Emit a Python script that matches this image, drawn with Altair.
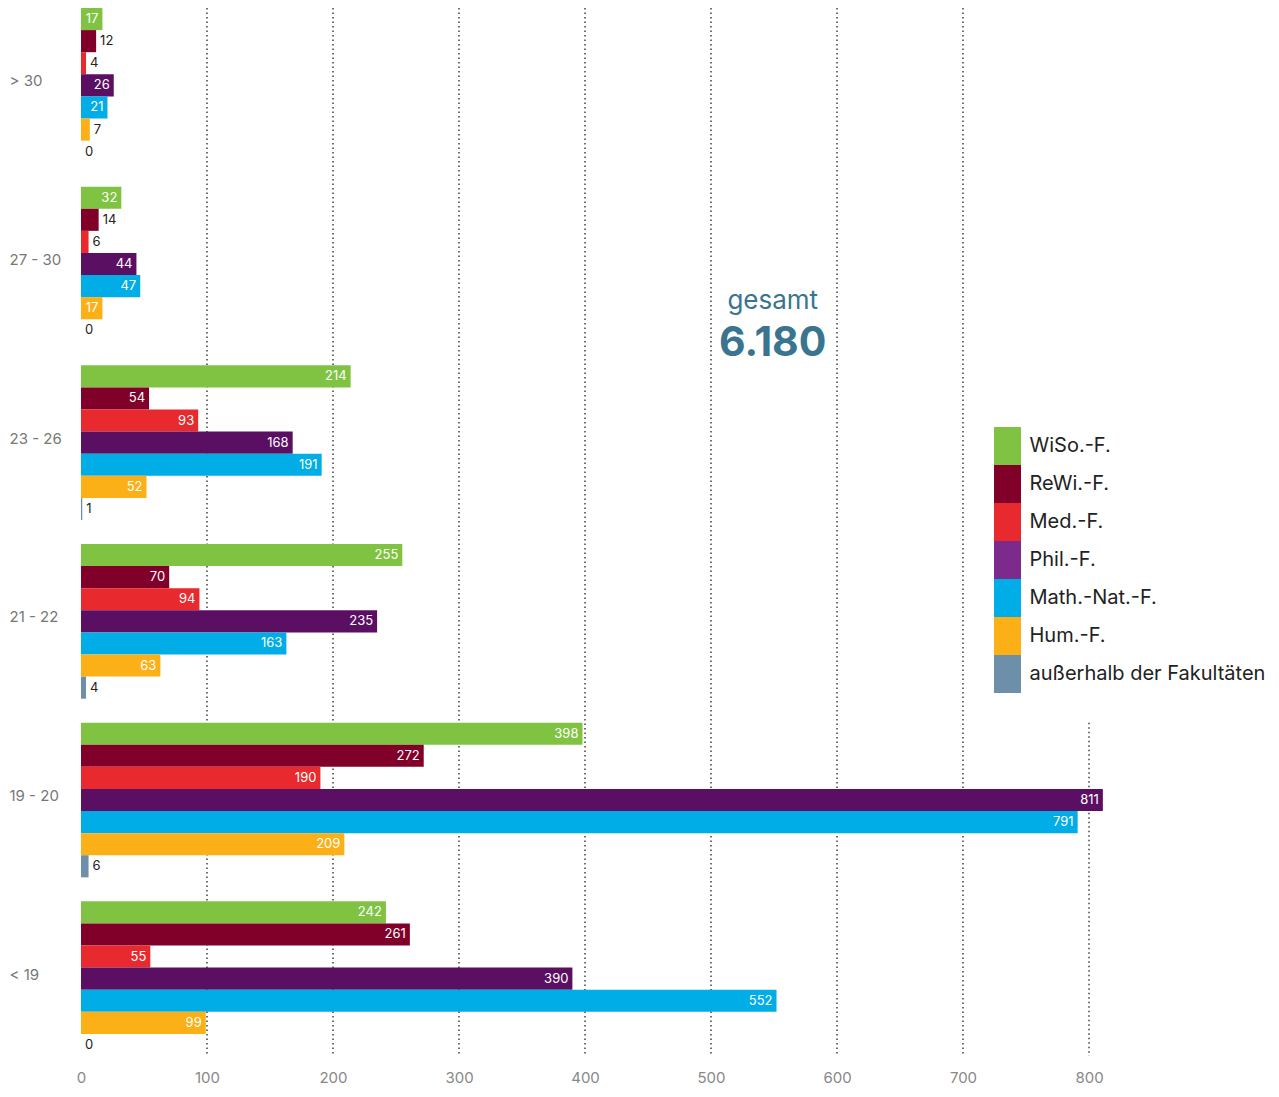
import altair as alt
import pandas as pd

ages = ["> 30", "27 - 30", "23 - 26", "21 - 22", "19 - 20", "< 19"]
faculties = ["WiSo.-F.", "ReWi.-F.", "Med.-F.", "Phil.-F.", "Math.-Nat.-F.", "Hum.-F.", "außerhalb der Fakultäten"]
bar_colors = ["#80c342", "#80002a", "#e8292d", "#5a0f63", "#00ade6", "#fbb017", "#6e8fa9"]
legend_colors = ["#80c342", "#80002a", "#e8292d", "#7c2a8b", "#00ade6", "#fbb017", "#6e8fa9"]

values_gt30 = [17, 12, 4, 26, 21, 7, 0]
values_27_30 = [32, 14, 6, 44, 47, 17, 0]
values_23_26 = [214, 54, 93, 168, 191, 52, 1]
values_21_22 = [255, 70, 94, 235, 163, 63, 4]
values_19_20 = [398, 272, 190, 811, 791, 209, 6]
values_lt19 = [242, 261, 55, 390, 552, 99, 0]

x_ticks = [0, 100, 200, 300, 400, 500, 600, 700, 800]
grid_full = [100, 200, 300, 400, 500, 600, 700]
total_label = "6.180"

FONT = "Inter"
PLOT_H = 1048

rows = []
for age, vals in zip(ages, [values_gt30, values_27_30, values_23_26, values_21_22, values_19_20, values_lt19]):
    for fac, v in zip(faculties, vals):
        rows.append({"age": age, "fac": fac, "value": v})
df = pd.DataFrame(rows)

y_scale = alt.Scale(domain=ages, paddingInner=0.134, paddingOuter=0)
yoff_scale = alt.Scale(domain=faculties, paddingInner=0, paddingOuter=0)
x_scale = alt.Scale(domain=[0, 800], nice=False)

y_axis = alt.Axis(domain=False, ticks=False, labelAlign="left", labelPadding=72, labelOffset=-4,
                  labelColor="#777", labelFontSize=15, labelFont=FONT, title=None)
x_axis = alt.Axis(values=x_ticks, grid=False, domain=False, ticks=False, labelFlush=False,
                  labelColor="#888", labelFontSize=15, labelFont=FONT,
                  labelPadding=14, title=None)

grid = alt.Chart(pd.DataFrame({"v": grid_full})).mark_rule(
    strokeDash=[1.5, 3], color="#222", strokeWidth=1.3
).encode(x=alt.X("v:Q", scale=x_scale, axis=x_axis))

grid800 = alt.Chart(pd.DataFrame({"v": [800], "start": ["19 - 20"]})).mark_rule(
    strokeDash=[1.5, 3], color="#222", strokeWidth=1.3
).encode(
    x=alt.X("v:Q", scale=x_scale, axis=x_axis),
    y=alt.Y("start:N", scale=y_scale, sort=ages, bandPosition=0, axis=y_axis),
    y2=alt.value(PLOT_H),
)

base = alt.Chart(df)

bars = base.mark_bar().encode(
    x=alt.X("value:Q", scale=x_scale, axis=x_axis),
    y=alt.Y("age:N", scale=y_scale, sort=ages, axis=y_axis),
    yOffset=alt.YOffset("fac:N", scale=yoff_scale, sort=faculties),
    color=alt.Color("fac:N", scale=alt.Scale(domain=faculties, range=bar_colors), legend=None),
)

inside = base.transform_filter("datum.value >= 15").mark_text(
    align="right", dx=-4, color="white", fontSize=13, font=FONT, baseline="middle"
).encode(
    x=alt.X("value:Q", scale=x_scale, axis=x_axis),
    y=alt.Y("age:N", scale=y_scale, sort=ages, axis=y_axis),
    yOffset=alt.YOffset("fac:N", scale=yoff_scale, sort=faculties),
    text="value:Q",
)

outside = base.transform_filter("datum.value < 15").mark_text(
    align="left", dx=4, color="#222", fontSize=13, font=FONT, baseline="middle"
).encode(
    x=alt.X("value:Q", scale=x_scale, axis=x_axis),
    y=alt.Y("age:N", scale=y_scale, sort=ages, axis=y_axis),
    yOffset=alt.YOffset("fac:N", scale=yoff_scale, sort=faculties),
    text="value:Q",
)

annot1 = alt.Chart(pd.DataFrame({"t": ["gesamt"]})).mark_text(
    fontSize=26, font=FONT, color="#3a7590", dy=37
).encode(x=alt.datum(549), y=alt.datum("27 - 30"), text="t:N")

annot2 = alt.Chart(pd.DataFrame({"t": [total_label]})).mark_text(
    fontSize=41, font=FONT, fontWeight="bold", color="#3a7590", dy=80
).encode(x=alt.datum(549), y=alt.datum("27 - 30"), text="t:N")

legend_layer = alt.Chart(pd.DataFrame({"fac": faculties})).mark_square(opacity=0).encode(
    color=alt.Color("fac:N", scale=alt.Scale(domain=faculties, range=legend_colors), sort=faculties,
                    legend=alt.Legend(
                        title=None, orient="none", legendX=907.5, legendY=419,
                        symbolType="M-0.71,-1H0.71V1H-0.71Z", symbolSize=1444,
                        symbolOpacity=1, symbolStrokeWidth=0, rowPadding=0,
                        labelFontSize=20, labelFont=FONT, labelColor="#222",
                        labelOffset=3, padding=0, labelLimit=300,
                    ))
)

chart = alt.layer(grid, grid800, bars, inside, outside, annot1, annot2, legend_layer).resolve_scale(
    color="independent"
).properties(
    width=1008, height=PLOT_H,
    padding={"left": 73, "top": 0, "right": 182, "bottom": 33},
    autosize=alt.AutoSizeParams(type="none"),
).configure_view(stroke=None)

chart.save("out.html", embed_options={"renderer": "svg", "actions": False})
